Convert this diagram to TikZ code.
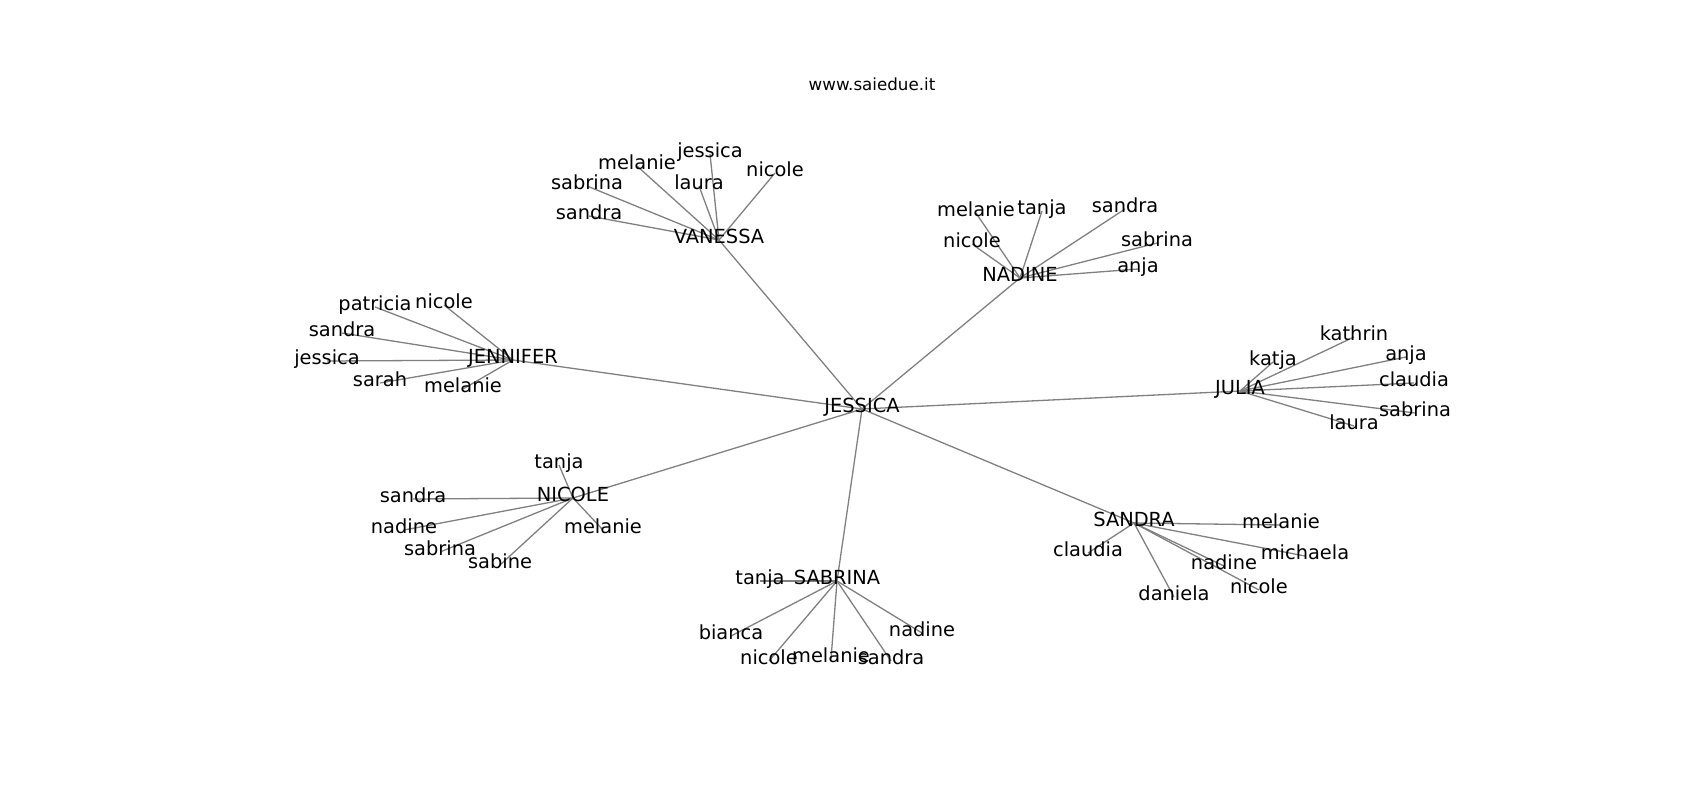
\documentclass[tikz,border=0pt]{standalone}
\usepackage{fontspec}
\setmainfont{DejaVu Sans}
\usetikzlibrary{backgrounds}

\tikzset{
	girl/.style={inner sep=0pt, text height=0.73em, text depth=0pt, font=\fontsize{19.4pt}{22pt}\selectfont},
	sitetitle/.style={inner sep=0pt, text height=0.73em, text depth=0pt, font=\fontsize{16.7pt}{19pt}\selectfont},
	link/.style={draw=gray, line width=1.3pt},
}

\begin{document}
\begin{tikzpicture}[x=1pt,y=-1pt]
\useasboundingbox (0,-4) rectangle (1700,796);

\node[sitetitle] (site) at (872,83) {www.saiedue.it};

\node[girl] (jessica) at (862,405) {JESSICA};

\node[girl] (vanessa) at (719,236) {VANESSA};
\node[girl] (nadine) at (1020,274) {NADINE};
\node[girl] (jennifer) at (513,356) {JENNIFER};
\node[girl] (julia) at (1240,387) {JULIA};
\node[girl] (nicole) at (573,494) {NICOLE};
\node[girl] (sandra) at (1134,519) {SANDRA};
\node[girl] (sabrina) at (837,577) {SABRINA};

\foreach \h in {vanessa,nadine,jennifer,julia,nicole,sandra,sabrina}{
	\begin{pgfonlayer}{background}
	\draw[link] (jessica.center) -- (\h.center);
	\end{pgfonlayer}
}

\foreach \n/\t/\x/\y in {va1/jessica/710/150, va2/melanie/637/162, va3/nicole/775/169, va4/laura/699/182, va5/sabrina/587/182, va6/sandra/589/212}{
	\node[girl] (\n) at (\x,\y) {\t};
	\begin{pgfonlayer}{background}
	\draw[link] (vanessa.center) -- (\n.center);
	\end{pgfonlayer}
}

\foreach \n/\t/\x/\y in {na1/melanie/976/209, na2/tanja/1042/207, na3/sandra/1125/205, na4/nicole/972/240, na5/sabrina/1157/239, na6/anja/1138/265}{
	\node[girl] (\n) at (\x,\y) {\t};
	\begin{pgfonlayer}{background}
	\draw[link] (nadine.center) -- (\n.center);
	\end{pgfonlayer}
}

\foreach \n/\t/\x/\y in {je1/patricia/375/303, je2/nicole/444/301, je3/sandra/342/329, je4/jessica/327/357, je5/sarah/380/379, je6/melanie/463/385}{
	\node[girl] (\n) at (\x,\y) {\t};
	\begin{pgfonlayer}{background}
	\draw[link] (jennifer.center) -- (\n.center);
	\end{pgfonlayer}
}

\foreach \n/\t/\x/\y in {ju1/kathrin/1354/333, ju2/katja/1273/358, ju3/anja/1406/353, ju4/claudia/1414/379, ju5/sabrina/1415/409, ju6/laura/1354/422}{
	\node[girl] (\n) at (\x,\y) {\t};
	\begin{pgfonlayer}{background}
	\draw[link] (julia.center) -- (\n.center);
	\end{pgfonlayer}
}

\foreach \n/\t/\x/\y in {ni1/tanja/559/461, ni2/sandra/413/495, ni3/nadine/404/526, ni4/sabrina/440/548, ni5/sabine/500/561, ni6/melanie/603/526}{
	\node[girl] (\n) at (\x,\y) {\t};
	\begin{pgfonlayer}{background}
	\draw[link] (nicole.center) -- (\n.center);
	\end{pgfonlayer}
}

\foreach \n/\t/\x/\y in {sa1/melanie/1281/521, sa2/claudia/1088/549, sa3/michaela/1305/552, sa4/nadine/1224/562, sa5/nicole/1259/586, sa6/daniela/1174/593}{
	\node[girl] (\n) at (\x,\y) {\t};
	\begin{pgfonlayer}{background}
	\draw[link] (sandra.center) -- (\n.center);
	\end{pgfonlayer}
}

\foreach \n/\t/\x/\y in {sb1/tanja/760/577, sb2/bianca/731/632, sb3/nadine/922/629, sb4/nicole/769/657, sb5/melanie/831/655, sb6/sandra/891/657}{
	\node[girl] (\n) at (\x,\y) {\t};
	\begin{pgfonlayer}{background}
	\draw[link] (sabrina.center) -- (\n.center);
	\end{pgfonlayer}
}
\end{tikzpicture}
\end{document}
